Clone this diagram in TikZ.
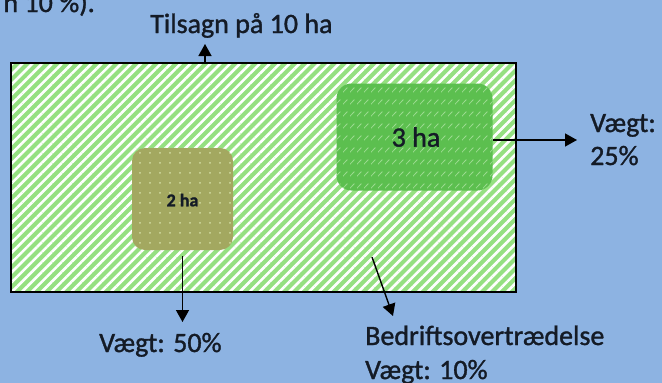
\documentclass[tikz,border=0pt]{standalone}
\usepackage{fontspec}
\setmainfont{Carlito}
\newfontfamily\tekstfont{Carlito}[FakeBold=1.2]
\usetikzlibrary{arrows.meta,patterns.meta}

\definecolor{Cbgblue}{HTML}{8DB3E2}
\definecolor{Cstripegreen}{HTML}{95E081}
\definecolor{Careagreen}{HTML}{5CBF4F}
\definecolor{Careahatch}{HTML}{9CDB90}
\definecolor{Colive}{HTML}{A3A860}
\definecolor{Colivedot}{HTML}{D2DCA2}
\definecolor{Ctextnavy}{HTML}{141B26}

\tikzdeclarepattern{name=areal3ticks,type=uncolored,
	bounding box={(0pt,0pt) and (7pt,12pt)},tile size={(7pt,12pt)},
	code={\draw[line width=0.9pt] (0pt,3pt) -- (5pt,8pt);}}

\tikzset{
	tekst/.style={text=Ctextnavy,inner sep=0pt,font=\tekstfont\fontsize{28}{33}\selectfont},
	pil/.style={draw=black,line width=1.4pt,-{Triangle[length=12pt,width=13pt]}},
	markbox/.style={fill=Cstripegreen,
		postaction={pattern={Lines[angle=45,distance=7pt,line width=2.6pt]},pattern color=white},
		postaction={draw=black,line width=1.4pt}},
	areal3box/.style={rounded corners=15pt,fill=Careagreen,
		postaction={pattern=areal3ticks,pattern color=Careahatch}},
	areal2box/.style={rounded corners=13pt,fill=Colive,
		postaction={pattern={Dots[distance=10pt,radius=1pt]},pattern color=Colivedot}},
}

\begin{document}
\begin{tikzpicture}[x=1pt,y=-1pt]
		\fill[Cbgblue] (0,0) rectangle (662,383);
		\useasboundingbox (0,0) rectangle (662,383);
		\clip (0,0) rectangle (662,383);
		\node[tekst,anchor=base east] (rest) at (95,12) {n 10 \%).};
		\node[markbox,minimum width=505pt,minimum height=229pt] (bedrift) at (263.5,177.5) {};
		\node[areal3box,minimum width=156pt,minimum height=107pt] (areal3) at (414.5,137) {};
		\node[tekst] (areal3tekst) at (416,137) {3 ha};
		\node[areal2box,minimum width=101pt,minimum height=102pt] (areal2) at (182.5,199) {};
		\node[tekst,font=\tekstfont\bfseries\fontsize{18}{21}\selectfont] (areal2tekst) at (182.5,200) {2 ha};
		\node[tekst,anchor=base west] (tilsagn) at (150,33) {Tilsagn på 10 ha};
		\node[tekst,anchor=base west] (vaegt25a) at (590,132) {Vægt:};
		\node[tekst,anchor=base west] (vaegt25b) at (590,165) {25\%};
		\node[tekst,anchor=base west] (vaegt50) at (99,352) {Vægt: 50\%};
		\node[tekst,anchor=base west] (brud) at (365,345) {Bedriftsovertrædelse};
		\node[tekst,anchor=base west] (vaegt10) at (365,379) {Vægt: 10\%};
		\coordinate (tilsagnpil) at (205,44);
		\coordinate (vaegt25pil) at (577,140);
		\coordinate (vaegt50pil) at (182.5,322);
		\coordinate (brudstart) at (372,257);
		\coordinate (brudpil) at (393,316);
		\draw[pil] (bedrift.north -| tilsagnpil) -- (tilsagnpil);
		\draw[pil] (areal3.east |- vaegt25pil) -- (vaegt25pil);
		\draw[pil] ([yshift=-6pt]areal2.south) -- (vaegt50pil);
		\draw[pil] (brudstart) -- (brudpil);
	\end{tikzpicture}
\end{document}
